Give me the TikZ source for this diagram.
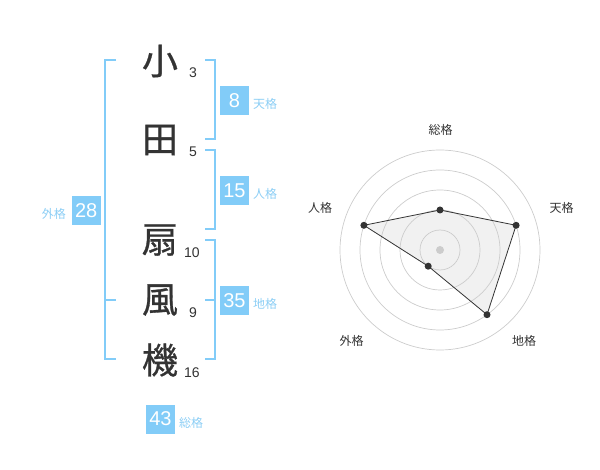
\documentclass[tikz,border=0pt]{standalone}
\usepackage{fontspec}
\setmainfont{Liberation Sans}
\newfontfamily\jp{Noto Sans CJK JP}
\newfontfamily\jpk[FakeBold=0.8]{Noto Sans CJK JP}
\definecolor{bluebox}{RGB}{130,204,248}
\definecolor{bluetxt}{RGB}{140,206,245}
\definecolor{dark}{RGB}{51,51,51}
\definecolor{ring}{RGB}{204,204,204}
\definecolor{polyfill}{RGB}{235,235,235}
\begin{document}
\begin{tikzpicture}[x=1pt,y=-1pt,
  kanji/.style={font=\jpk\fontsize{36}{36}\selectfont, text=dark, inner sep=0},
  strokes/.style={font=\fontsize{14}{14}\selectfont, text=dark, inner sep=0},
  numbox/.style={fill=bluebox, text=white, font=\fontsize{20}{20}\selectfont, minimum size=29pt, inner sep=0},
  kaku/.style={font=\jp\fontsize{12}{12}\selectfont, text=bluetxt, inner sep=0},
  bracket/.style={draw=bluebox, line width=2pt},
  radarlbl/.style={font=\jp\fontsize{12}{12}\selectfont, text=dark, inner sep=0},
  dot/.style={circle, fill=dark, inner sep=0, minimum size=7pt},
]
\useasboundingbox (0,0) rectangle (600,470);
% kanji
\node[kanji] (k1) at (160,61) {小};
\node[kanji] (k2) at (160,140) {田};
\node[kanji] (k3) at (160,240) {扇};
\node[kanji] (k4) at (160,300) {風};
\node[kanji] (k5) at (160,360) {機};
% strokes
\node[strokes] (s1) at (193,73) {3};
\node[strokes] (s2) at (193,152) {5};
\node[strokes] (s3) at (192,253) {10};
\node[strokes] (s4) at (193,313) {9};
\node[strokes] (s5) at (192,373) {16};
% brackets
\draw[bracket] (116,60) -- (105,60) -- (105,359) -- (116,359);
\draw[bracket] (105,300) -- (116,300);
\draw[bracket] (205,60) -- (215,60) -- (215,139) -- (205,139);
\draw[bracket] (205,150) -- (215,150) -- (215,229) -- (205,229);
\draw[bracket] (205,240) -- (215,240) -- (215,359) -- (205,359);
\draw[bracket] (205,300) -- (215,300);
% boxes
\node[numbox] (ten) at (234.5,100.5) {8};
\node[kaku, anchor=west] (tenl) at (253,104) {天格};
\node[numbox] (jin) at (234.5,190.5) {15};
\node[kaku, anchor=west] (jinl) at (253,194) {人格};
\node[numbox] (chi) at (234.5,300.5) {35};
\node[kaku, anchor=west] (chil) at (253,304) {地格};
\node[numbox] (gai) at (86.2,210.5) {28};
\node[kaku, anchor=east] (gail) at (66,214) {外格};
\node[numbox] (sou) at (160.5,419) {43};
\node[kaku, anchor=west] (soul) at (179,423) {総格};
% radar
\coordinate (c) at (440,250);
\fill[polyfill, opacity=0.7] (440,210) -- (516.1,225.3) -- (487.0,314.7) -- (428.2,266.2) -- (363.9,225.3) -- cycle;
\foreach \r in {20,40,60,80,100} \draw[ring, line width=0.7pt] (c) circle[radius=\r];
\draw[dark, line width=0.8pt] (440,210) -- (516.1,225.3) -- (487.0,314.7) -- (428.2,266.2) -- (363.9,225.3) -- cycle;
\node[circle, fill=ring, inner sep=0, minimum size=8pt] (cd) at (c) {};
\node[dot] (p1) at (440,210) {};
\node[dot] (p2) at (516.1,225.3) {};
\node[dot] (p3) at (487.0,314.7) {};
\node[dot] (p4) at (428.2,266.2) {};
\node[dot] (p5) at (363.9,225.3) {};
\node[radarlbl] (l1) at (440.7,130) {総格};
\node[radarlbl] (l2) at (561.7,208) {天格};
\node[radarlbl] (l3) at (524,341) {地格};
\node[radarlbl] (l4) at (351.7,341) {外格};
\node[radarlbl] (l5) at (320,208) {人格};
\end{tikzpicture}
\end{document}
